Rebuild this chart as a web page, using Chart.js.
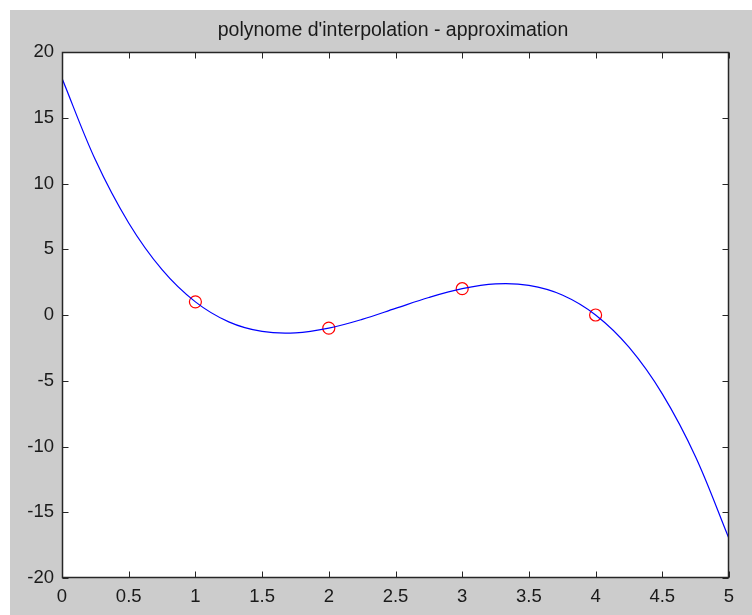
<!DOCTYPE html>
<html>
<head>
<meta charset="utf-8">
<script src="https://cdn.jsdelivr.net/npm/chart.js@4"></script>
<style>
  html, body { margin: 0; padding: 0; background: #ffffff; }
  #wrap { width: 752px; height: 615px; position: relative; }
</style>
</head>
<body>
<div id="wrap"><canvas id="chart" width="752" height="615"></canvas></div>
<script>
// titre + données
const TITLE = "polynome d'interpolation - approximation";

// courbe (polynôme)
const curveX = [0, 0.25, 0.5, 0.75, 1, 1.25, 1.5, 1.75, 2, 2.25, 2.5, 2.75, 3, 3.25, 3.5, 3.75, 4, 4.25, 4.5, 4.75, 5];
const curveY = [18, 11.8, 7.0, 3.45, 1, -0.52, -1.25, -1.36, -1, -0.33, 0.5, 1.33, 2, 2.36, 2.25, 1.52, 0, -2.45, -6.0, -10.8, -17];

// points d'interpolation (cercles rouges)
const nodesX = [1, 2, 3, 4];
const nodesY = [1, -1, 2, 0];

// graduations
const xTicks = [0, 0.5, 1, 1.5, 2, 2.5, 3, 3.5, 4, 4.5, 5];
const yTicks = [-20, -15, -10, -5, 0, 5, 10, 15, 20];

const FAMILY = 'Arial, "Liberation Sans", sans-serif';
const FONT = { family: FAMILY, size: 18.5 };
const INK = '#1a1a1a';

// fond gris + cadre + petites graduations vers l'intérieur (style matlab)
const matlabFrame = {
    id: 'matlabFrame',
    beforeDraw(chart) {
        const { ctx, chartArea: a } = chart;
        ctx.save();
        ctx.fillStyle = '#ffffff';
        ctx.fillRect(0, 0, chart.width, chart.height);
        ctx.fillStyle = '#cccccc';
        ctx.fillRect(10, 10, chart.width - 10, chart.height - 10);
        ctx.fillStyle = '#ffffff';
        ctx.fillRect(a.left, a.top, a.right - a.left, a.bottom - a.top);
        // titre
        ctx.fillStyle = INK;
        ctx.font = '19.5px ' + FAMILY;
        ctx.textAlign = 'center';
        ctx.textBaseline = 'middle';
        ctx.fillText(TITLE, 393, 31);
        ctx.restore();
    },
    afterDraw(chart) {
        const { ctx, chartArea: a, scales } = chart;
        const L = Math.round(a.left) + 0.5, R = Math.round(a.right) - 0.5;
        const T = Math.round(a.top) + 0.5, B = Math.round(a.bottom) - 0.5;
        const tl = 6;
        ctx.save();
        ctx.strokeStyle = '#262626';
        ctx.lineWidth = 1;
        ctx.beginPath();
        xTicks.forEach(v => {
            const px = Math.round(scales.x.getPixelForValue(v)) + 0.5;
            ctx.moveTo(px, B); ctx.lineTo(px, B - tl);
            ctx.moveTo(px, T); ctx.lineTo(px, T + tl);
        });
        yTicks.forEach(v => {
            const py = Math.round(scales.y.getPixelForValue(v)) + 0.5;
            ctx.moveTo(L, py); ctx.lineTo(L + tl, py);
            ctx.moveTo(R, py); ctx.lineTo(R - tl, py);
        });
        ctx.stroke();
        ctx.lineWidth = 1.5;
        ctx.strokeRect(L, T, R - L, B - T);
        ctx.restore();
    }
};

new Chart(document.getElementById('chart'), {
    type: 'scatter',
    data: {
        datasets: [{
            label: 'polynome',
            data: curveX.map((x, i) => ({ x: x, y: curveY[i] })),
            showLine: true,
            borderColor: '#0000ff',
            borderWidth: 1.2,
            pointRadius: 0,
            tension: 0.35,
            fill: false
        }, {
            label: 'points',
            data: nodesX.map((x, i) => ({ x: x, y: nodesY[i] })),
            showLine: false,
            pointStyle: 'circle',
            pointRadius: 6,
            borderColor: '#ff0000',
            backgroundColor: 'rgba(0,0,0,0)',
            borderWidth: 1.2
        }]
    },
    options: {
        responsive: false,
        animation: false,
        devicePixelRatio: 1,
        layout: { padding: { top: 52, right: 23, left: 0, bottom: 0 } },
        plugins: {
            legend: { display: false },
            title: { display: false },
            tooltip: { enabled: false }
        },
        scales: {
            x: {
                type: 'linear',
                min: 0, max: 5,
                afterBuildTicks: s => { s.ticks = xTicks.map(v => ({ value: v })); },
                afterFit: s => { s.height = 37; },
                grid: { display: false, drawTicks: false },
                border: { display: false },
                ticks: { color: INK, font: FONT, padding: 8, maxRotation: 0, callback: v => String(v) }
            },
            y: {
                type: 'linear',
                min: -20, max: 20,
                afterBuildTicks: s => { s.ticks = yTicks.map(v => ({ value: v })); },
                afterFit: s => { s.width = 62; },
                grid: { display: false, drawTicks: false },
                border: { display: false },
                ticks: { color: INK, font: FONT, padding: 8, callback: v => String(v) }
            }
        }
    },
    plugins: [matlabFrame]
});
</script>
</body>
</html>
